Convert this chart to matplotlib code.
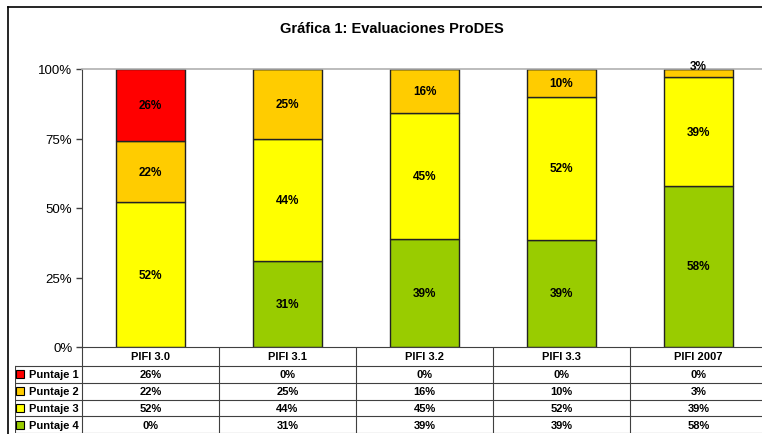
import matplotlib
matplotlib.use("Agg")
import matplotlib.pyplot as plt
from matplotlib.lines import Line2D
import numpy as np

plt.rcParams["font.family"] = ["Liberation Sans", "DejaVu Sans"]

# data
title = "Gráfica 1: Evaluaciones ProDES"
categories = ["PIFI 3.0", "PIFI 3.1", "PIFI 3.2", "PIFI 3.3", "PIFI 2007"]
series_names = ["Puntaje 1", "Puntaje 2", "Puntaje 3", "Puntaje 4"]
puntaje1 = [26, 0, 0, 0, 0]
puntaje2 = [22, 25, 16, 10, 3]
puntaje3 = [52, 44, 45, 52, 39]
puntaje4 = [0, 31, 39, 39, 58]
y_ticks = [0, 0.25, 0.5, 0.75, 1.0]
y_tick_labels = ["0%", "25%", "50%", "75%", "100%"]

colors = ["#FF0000", "#FFCC00", "#FFFF00", "#99CC00"]

W, H = 762, 435
fig = plt.figure(figsize=(W / 100, H / 100), dpi=100)

# outer chart border (left + top only, rest is cropped)
fig.add_artist(Line2D([8 / W, 8 / W], [0, 1 - 8 / H], color="black", lw=1.2))
fig.add_artist(Line2D([8 / W, 1], [1 - 8 / H, 1 - 8 / H], color="black", lw=1.2))

fig.text(392 / W, 1 - 29 / H, title, ha="center", va="center",
         fontsize=10.5, fontweight="bold")

# bar chart (bottom-up: puntaje 4 first)
ax = fig.add_axes([82 / W, 87 / H, 685 / W, 278 / H])
stack = [puntaje4, puntaje3, puntaje2, puntaje1]
stack_colors = [colors[3], colors[2], colors[1], colors[0]]
totals = np.array(puntaje1) + np.array(puntaje2) + np.array(puntaje3) + np.array(puntaje4)
x = np.arange(len(categories))
bottom = np.zeros(len(categories))
for vals, col in zip(stack, stack_colors):
    frac = np.array(vals) / totals
    ax.bar(x, frac, 0.5, bottom=bottom, color=col, edgecolor="#222222", linewidth=1)
    for xi, v, f, b in zip(x, vals, frac, bottom):
        if v > 0:
            # very thin segments get their label nudged up, like Excel does
            yc = b + f / 2 if f > 0.05 else b + f / 2 + 0.025
            ax.text(xi, yc, f"{v}%", ha="center", va="center",
                    fontsize=8.5, fontweight="bold", clip_on=False)
    bottom = bottom + frac

ax.set_xlim(-0.5, 4.5)
ax.set_ylim(0, 1)
ax.set_yticks(y_ticks)
ax.set_yticklabels(y_tick_labels, fontsize=9.5)
ax.set_xticks([])
ax.tick_params(axis="y", length=4, width=1, color="#404040", pad=3)
ax.spines["right"].set_visible(False)
ax.spines["top"].set_color("#B0B0B0")
ax.spines["top"].set_linewidth(1.2)
ax.spines["left"].set_color("#404040")
ax.spines["bottom"].set_color("#404040")

# data table below
left_px = 15
unit = 685 / 5
x_left = -0.5 - (82 - left_px) / unit
tax = fig.add_axes([left_px / W, 1 / H, (767 - left_px) / W, 86 / H])
tax.set_xlim(x_left, 4.5)
tax.set_ylim(86, 0)
tax.axis("off")

head_h = 19
row_h = (86 - head_h) / len(series_names)
line_kw = dict(color="#404040", lw=0.8)

for k in range(len(categories) + 1):
    tax.plot([k - 0.5, k - 0.5], [0, 86], **line_kw)
tax.plot([x_left, x_left], [head_h, 86], **line_kw)
for r in range(len(series_names) + 1):
    y = head_h + r * row_h
    tax.plot([x_left, 4.5], [y, y], **line_kw)

for i, c in enumerate(categories):
    tax.text(i, head_h / 2, c, ha="center", va="center", fontsize=8, fontweight="bold")

rows = [puntaje1, puntaje2, puntaje3, puntaje4]
for r, (name, vals) in enumerate(zip(series_names, rows)):
    yc = head_h + (r + 0.5) * row_h
    tax.plot([x_left + 5 / unit], [yc], marker="s", markersize=5.5,
             markerfacecolor=colors[r], markeredgecolor="black", markeredgewidth=0.8)
    tax.text(x_left + 13.5 / unit, yc, name, ha="left", va="center",
             fontsize=8, fontweight="bold")
    for i, v in enumerate(vals):
        tax.text(i, yc, f"{v}%", ha="center", va="center", fontsize=8, fontweight="bold")

fig.savefig("out.png", dpi=100)
